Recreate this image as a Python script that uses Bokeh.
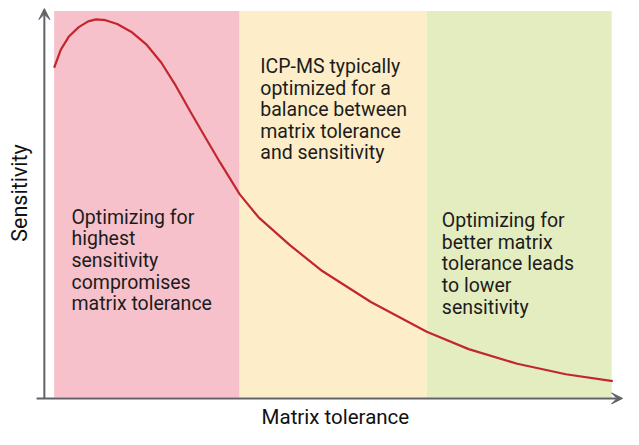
from bokeh.plotting import figure
from bokeh.models import Range1d, Label, Arrow, VeeHead, ColumnDataSource
from bokeh.embed import file_html
from bokeh.resources import INLINE

# ---- data (arbitrary units) ----
tolerance = [0, 1.2, 2.6, 4.4, 6.1, 7.5, 9.2, 11.3, 14.0, 16.6, 19.2, 21.8, 24.4,
             27.1, 29.7, 33.2, 36.6, 42.2, 48.0, 56.7, 66.7, 74.2, 82.9, 91.6, 100]
sensitivity = [85.3, 90.0, 93.3, 95.8, 97.3, 97.8, 97.6, 96.6, 94.4, 91.2, 86.6, 80.6, 73.9,
               67.2, 60.8, 52.6, 46.6, 39.4, 32.7, 24.7, 17.0, 12.5, 8.7, 6.0, 4.2]

zone_left = [0, 33.2, 66.7]
zone_right = [33.2, 66.7, 99.8]
zone_colors = ["#F6C1CA", "#FDEEC9", "#E4EDC0"]
zone_texts = [
    "Optimizing for\nhighest\nsensitivity\ncompromises\nmatrix tolerance",
    "ICP-MS typically\noptimized for a\nbalance between\nmatrix tolerance\nand sensitivity",
    "Optimizing for\nbetter matrix\ntolerance leads\nto lower\nsensitivity",
]
zone_text_x = [3.1, 36.9, 69.4]
zone_text_y = [49.6, 88.6, 48.7]

x_title = "Matrix tolerance"
y_title = "Sensitivity"

FONT = "Roboto"
TEXT = "#1c1c1c"
AXIS = "#5f6368"

p = figure(width=623, height=429, output_backend="svg", toolbar_location=None,
           x_range=Range1d(-9.6, 101.92), y_range=Range1d(-8.3, 102.7),
           min_border=0, min_border_left=0, min_border_right=0,
           min_border_top=0, min_border_bottom=0)
p.axis.visible = False
p.grid.visible = False
p.outline_line_color = None
p.background_fill_color = "white"
p.border_fill_color = "white"

zones = ColumnDataSource(dict(left=zone_left, right=zone_right, color=zone_colors))
p.quad(left="left", right="right", bottom=0, top=100, fill_color="color",
       line_color=None, source=zones)

p.line(tolerance, sensitivity, line_color="#C1272D", line_width=2.2)

for t, x, y in zip(zone_texts, zone_text_x, zone_text_y):
    p.add_layout(Label(x=x, y=y, text=t, text_font=FONT, text_font_size="19.5px",
                       text_color=TEXT, text_baseline="top", text_align="left",
                       text_line_height=0.94))

# axes drawn as arrows
p.add_layout(Arrow(x_start=-1.75, y_start=-0.25, x_end=-1.75, y_end=100.6,
                   line_color=AXIS, line_width=2,
                   end=VeeHead(size=11, fill_color=AXIS, line_color=AXIS, line_width=1)))
p.add_layout(Arrow(x_start=-3.14, y_start=-0.25, x_end=101.75, y_end=-0.25,
                   line_color=AXIS, line_width=2,
                   end=VeeHead(size=11, fill_color=AXIS, line_color=AXIS, line_width=1)))

p.add_layout(Label(x=50.35, y=-4.95, text=x_title, text_font=FONT, text_font_size="20.5px",
                   text_color="#111111", text_align="center", text_baseline="alphabetic"))
p.add_layout(Label(x=-6.2, y=52.9, text=y_title, text_font=FONT, text_font_size="21.5px",
                   text_color="#111111", text_align="center", text_baseline="middle",
                   angle=1.5707963))

open("out.html", "w").write(file_html(p, INLINE))
